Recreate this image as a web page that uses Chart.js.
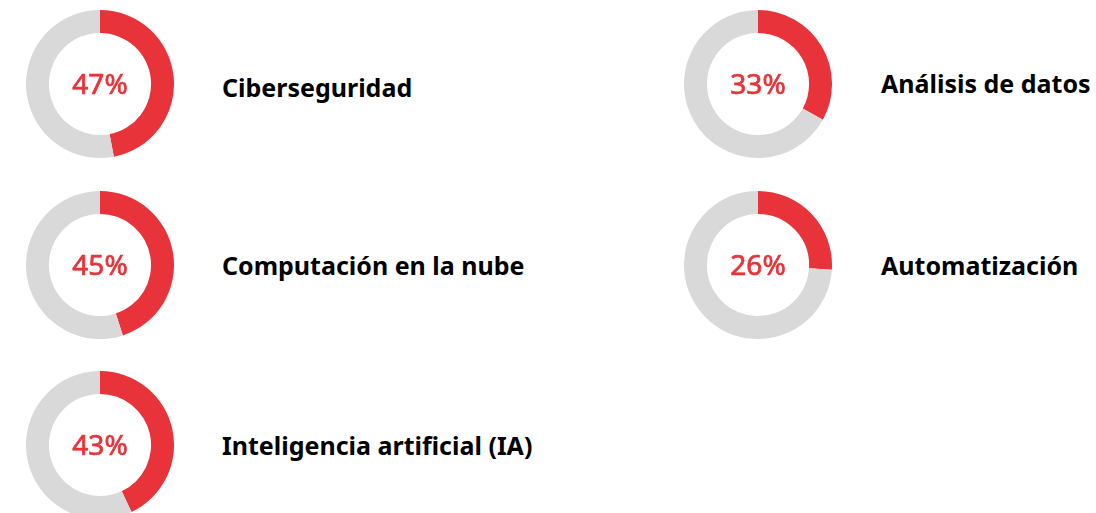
<!DOCTYPE html>
<html>
<head>
<meta charset="utf-8">
<script src="https://cdn.jsdelivr.net/npm/chart.js@4.4.1/dist/chart.umd.min.js"></script>
<style>
  html, body { margin: 0; padding: 0; background: #fff; }
  body { width: 1096px; height: 513px; position: relative; overflow: hidden; }
  .ring { position: absolute; width: 148px; height: 148px; }
  .label {
    position: absolute;
    font-family: "Noto Sans", sans-serif;
    font-weight: 700;
    font-size: 25px;
    line-height: 24px;
    color: #000;
    white-space: nowrap;
  }
</style>
</head>
<body>
<script>
const categories = ['Ciberseguridad', 'Computación en la nube', 'Inteligencia artificial (IA)', 'Análisis de datos', 'Automatización'];
const percents = [47, 45, 43, 33, 26];

// layout: centro de cada anillo y línea base de la etiqueta
const centers = [[100, 84], [100, 265], [100, 445], [758, 84], [758, 265]];
const labelX = [222, 222, 222, 881, 881];
const labelBase = [97, 275, 455, 93, 275];

const RED = '#e8333a';
const GREY = '#d9d9d9';

// texto del porcentaje en el centro
const centerText = {
  id: 'centerText',
  afterDraw(chart) {
    const ctx = chart.ctx;
    const meta = chart.getDatasetMeta(0).data[0];
    const txt = chart.options.plugins.centerText.text;
    ctx.save();
    ctx.fillStyle = RED;
    ctx.strokeStyle = RED;
    ctx.lineWidth = 0.7;
    ctx.font = '28px "Noto Sans"';
    ctx.textAlign = 'center';
    ctx.textBaseline = 'alphabetic';
    ctx.fillText(txt, meta.x, meta.y + 10);
    ctx.strokeText(txt, meta.x, meta.y + 10);
    ctx.restore();
  }
};

categories.forEach((name, i) => {
  const canvas = document.createElement('canvas');
  canvas.className = 'ring';
  canvas.style.left = (centers[i][0] - 74) + 'px';
  canvas.style.top = (centers[i][1] - 74) + 'px';
  document.body.appendChild(canvas);

  new Chart(canvas, {
    type: 'doughnut',
    data: {
      labels: [name, ''],
      datasets: [{
        data: [percents[i], 100 - percents[i]],
        backgroundColor: [RED, GREY],
        borderWidth: 0
      }]
    },
    options: {
      responsive: false,
      animation: false,
      cutout: '69%',
      layout: { padding: 0 },
      events: [],
      plugins: {
        legend: { display: false },
        tooltip: { enabled: false },
        centerText: { text: percents[i] + '%' }
      }
    },
    plugins: [centerText]
  });

  const lab = document.createElement('div');
  lab.className = 'label';
  lab.textContent = name;
  lab.style.left = labelX[i] + 'px';
  lab.style.top = (labelBase[i] - 22) + 'px';
  document.body.appendChild(lab);
});
</script>
</body>
</html>
